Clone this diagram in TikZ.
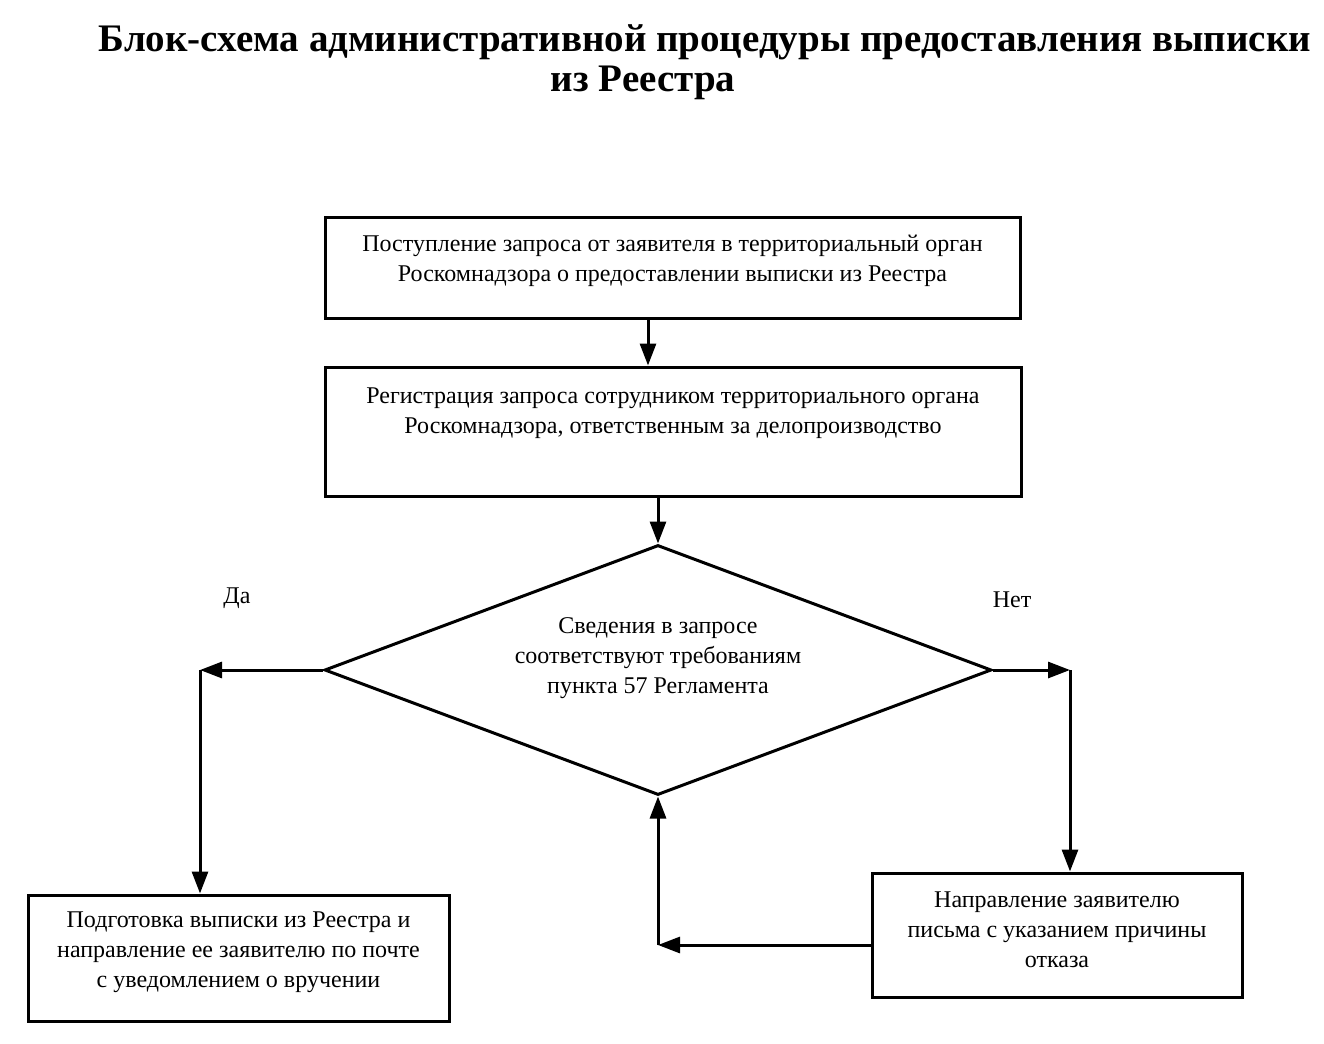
\documentclass[tikz,border=0pt]{standalone}
\usepackage{fontspec}
\setmainfont{Liberation Serif}
\usetikzlibrary{shapes.geometric,arrows.meta}
\begin{document}
\begin{tikzpicture}[x=0.5pt,y=-0.5pt,
  box/.style={draw,line width=1.5pt,inner sep=0pt},
  txt/.style={align=center,inner sep=0pt,font=\fontsize{12}{15}\selectfont},
  dec/.style={draw,diamond,line width=1.5pt,inner sep=0pt,minimum width=333.5pt,minimum height=125pt,aspect=2.67},
  arr/.style={line width=1.5pt,-{Triangle[length=11pt,width=8pt]}},
  ttl/.style={inner sep=0pt,font=\fontsize{19.5}{24}\selectfont\bfseries}]
\useasboundingbox (0,0) rectangle (1324,1044);
\fill[white] (0,0) rectangle (1324,1044);

\node[ttl] (t1) at (705,42) {Блок-схема административной процедуры предоставления выписки};
\node[ttl] (t2) at (643,83) {из Реестра};

\node[box,minimum width=347.5pt,minimum height=50.5pt] (b1) at (672.5,267.5) {};
\node[txt] (b1t) at (672.5,261) {Поступление запроса от заявителя в территориальный орган\\Роскомнадзора о предоставлении выписки из Реестра};

\node[box,minimum width=348pt,minimum height=64.5pt] (b2) at (673,431.5) {};
\node[txt] (b2t) at (673,413) {Регистрация запроса сотрудником территориального органа\\Роскомнадзора, ответственным за делопроизводство};

\node[dec] (d) at (658,670) {};
\node[txt] (dt) at (658,658) {Сведения в запросе\\соответствуют требованиям\\пункта 57 Регламента};

\node[box,minimum width=210.5pt,minimum height=63pt] (b3) at (238.5,958) {};
\node[txt] (b3t) at (238.5,952) {Подготовка выписки из Реестра и\\направление ее заявителю по почте\\с уведомлением о вручении};

\node[box,minimum width=185pt,minimum height=62pt] (b4) at (1057,935) {};
\node[txt] (b4t) at (1057,930) {Направление заявителю\\письма с указанием причины\\отказа};

\node[txt] (yes) at (237,598) {Да};
\node[txt] (no) at (1012,600) {Нет};

\coordinate (ax) at (648,0);
\coordinate (yl) at (200,670);
\coordinate (nr) at (1070,670);
\coordinate (bk) at (658,945);

\draw[arr] (b1.south -| ax) -- (b2.north -| ax);
\draw[arr] (b2.south -| d.north) -- (d.north);
\draw[arr] (d.west) -- (yl);
\draw[arr] (yl) -- (b3.north -| yl);
\draw[arr] (d.east) -- (nr);
\draw[arr] (nr) -- (b4.north -| nr);
\draw[arr] (b4.west |- bk) -- (bk);
\draw[arr] (bk) -- (d.south);
\end{tikzpicture}
\end{document}
